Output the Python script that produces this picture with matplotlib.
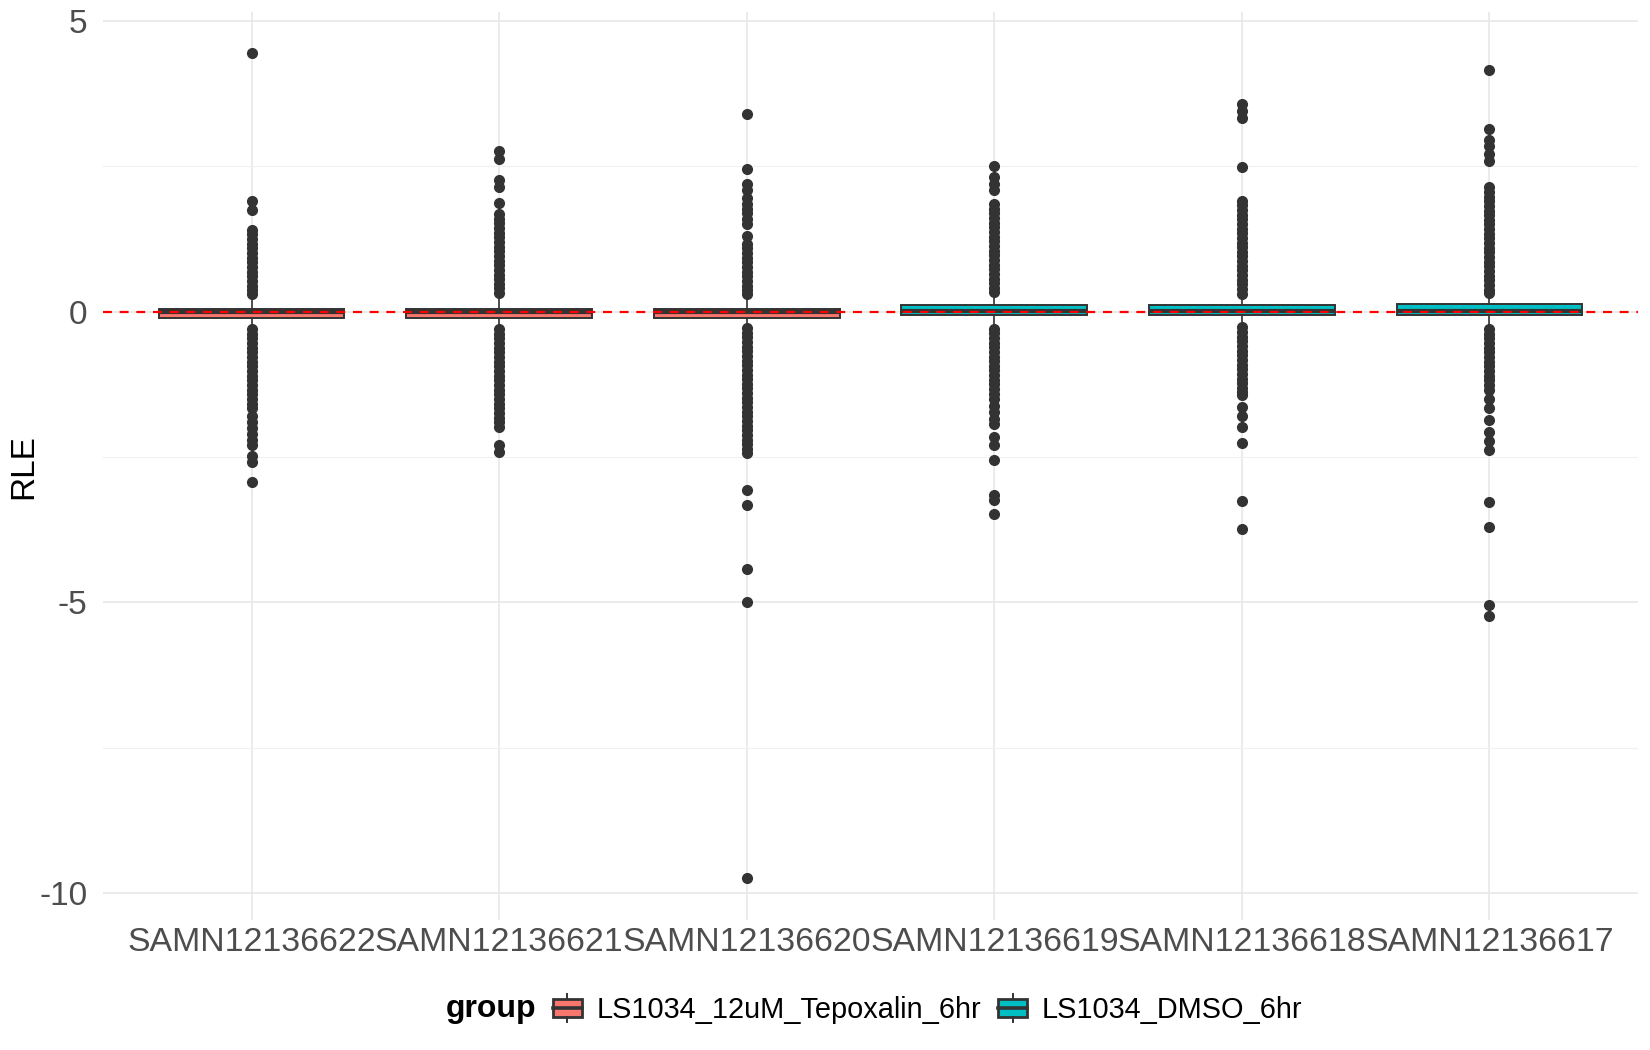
import matplotlib
matplotlib.use("Agg")
import matplotlib.pyplot as plt
from matplotlib.patches import Rectangle
from matplotlib.lines import Line2D
from matplotlib.legend_handler import HandlerBase

plt.rcParams['font.family'] = ['Liberation Sans', 'DejaVu Sans']

samples = ['SAMN12136622', 'SAMN12136621', 'SAMN12136620',
           'SAMN12136619', 'SAMN12136618', 'SAMN12136617']
groups = ['LS1034_12uM_Tepoxalin_6hr', 'LS1034_12uM_Tepoxalin_6hr', 'LS1034_12uM_Tepoxalin_6hr',
          'LS1034_DMSO_6hr', 'LS1034_DMSO_6hr', 'LS1034_DMSO_6hr']
group_names = ['LS1034_12uM_Tepoxalin_6hr', 'LS1034_DMSO_6hr']
group_colors = ['#F8766D', '#00BFC4']

# box statistics
q1 = [-0.10, -0.10, -0.10, -0.06, -0.05, -0.06]
med = [0.00, 0.00, -0.01, 0.02, 0.02, 0.02]
q3 = [0.05, 0.04, 0.04, 0.12, 0.12, 0.13]
whis_lo = [-0.25, -0.25, -0.24, -0.24, -0.23, -0.25]
whis_hi = [0.24, 0.26, 0.25, 0.29, 0.25, 0.30]

# outliers (upper and lower), one list per sample
out_hi = [
    [4.45, 1.9, 1.75, 1.4, 1.33, 1.25, 1.17, 1.09, 1.01, 0.93, 0.85, 0.77, 0.69, 0.61, 0.53, 0.45, 0.38, 0.3],
    [2.77, 2.63, 2.26, 2.14, 1.87, 1.68, 1.6, 1.52, 1.44, 1.36, 1.28, 1.2, 1.12, 1.04, 0.96, 0.88, 0.8,
     0.72, 0.64, 0.56, 0.48, 0.4, 0.32],
    [3.4, 2.45, 2.2, 2.1, 1.95, 1.85, 1.77, 1.69, 1.6, 1.5, 1.3, 1.17, 1.09, 1.01, 0.93, 0.85, 0.77,
     0.69, 0.61, 0.53, 0.45, 0.37, 0.3],
    [2.5, 2.32, 2.2, 2.1, 1.85, 1.77, 1.69, 1.61, 1.53, 1.45, 1.37, 1.29, 1.21, 1.13, 1.05, 0.97, 0.89,
     0.81, 0.73, 0.65, 0.57, 0.49, 0.41, 0.34],
    [3.57, 3.45, 3.33, 2.49, 1.91, 1.83, 1.75, 1.67, 1.59, 1.51, 1.43, 1.35, 1.27, 1.19, 1.11, 1.03,
     0.95, 0.87, 0.79, 0.71, 0.63, 0.55, 0.47, 0.39, 0.31],
    [4.15, 3.15, 2.95, 2.85, 2.72, 2.6, 2.14, 2.06, 1.98, 1.9, 1.82, 1.74, 1.66, 1.58, 1.5, 1.42, 1.34,
     1.26, 1.18, 1.1, 1.02, 0.94, 0.86, 0.78, 0.7, 0.62, 0.54, 0.46, 0.38, 0.33],
]
out_lo = [
    [-0.3, -0.38, -0.46, -0.54, -0.62, -0.7, -0.78, -0.86, -0.94, -1.02, -1.1, -1.18, -1.26, -1.34,
     -1.42, -1.5, -1.58, -1.65, -1.8, -1.9, -2.0, -2.1, -2.2, -2.3, -2.48, -2.58, -2.92],
    [-0.3, -0.38, -0.46, -0.54, -0.62, -0.7, -0.78, -0.86, -0.94, -1.02, -1.1, -1.18, -1.26, -1.34,
     -1.42, -1.5, -1.58, -1.66, -1.74, -1.82, -1.9, -1.98, -2.3, -2.42],
    [-0.28, -0.36, -0.44, -0.52, -0.6, -0.68, -0.76, -0.84, -0.92, -1.0, -1.08, -1.16, -1.24, -1.32,
     -1.4, -1.48, -1.56, -1.64, -1.72, -1.8, -1.88, -1.96, -2.04, -2.12, -2.2, -2.28, -2.36, -2.43,
     -3.07, -3.33, -4.43, -5.0, -9.73],
    [-0.29, -0.37, -0.45, -0.53, -0.61, -0.69, -0.77, -0.85, -0.93, -1.01, -1.09, -1.17, -1.25, -1.33,
     -1.41, -1.5, -1.62, -1.72, -1.84, -1.93, -2.15, -2.29, -2.55, -3.15, -3.24, -3.47],
    [-0.27, -0.35, -0.43, -0.51, -0.59, -0.67, -0.75, -0.83, -0.91, -0.99, -1.07, -1.15, -1.23, -1.31,
     -1.38, -1.44, -1.64, -1.8, -1.98, -2.25, -3.26, -3.74],
    [-0.3, -0.38, -0.46, -0.54, -0.62, -0.7, -0.78, -0.86, -0.94, -1.02, -1.1, -1.18, -1.26, -1.35,
     -1.5, -1.66, -1.87, -2.06, -2.22, -2.38, -3.27, -3.7, -5.05, -5.24],
]

DARK = '#333333'


class BoxKey(HandlerBase):
    # boxplot glyph for the legend, like ggplot's draw_key_boxplot
    def create_artists(self, legend, orig, xd, yd, w, h, fontsize, trans):
        x0, y0 = -xd, -yd
        cx = x0 + w / 2
        box = Rectangle((x0, y0 + h * 0.18), w, h * 0.64,
                        facecolor=orig.get_facecolor(), edgecolor=DARK, lw=2.0, transform=trans)
        mid = Line2D([x0, x0 + w], [y0 + h / 2] * 2, color=DARK, lw=2.6, transform=trans)
        top = Line2D([cx, cx], [y0 + h * 0.82, y0 + h], color=DARK, lw=1.4, transform=trans)
        bot = Line2D([cx, cx], [y0, y0 + h * 0.18], color=DARK, lw=1.4, transform=trans)
        return [box, mid, top, bot]


fig = plt.figure(figsize=(16.5, 10.5), dpi=100)
ax = fig.add_axes([103 / 1650, 0.1238, 1535 / 1650, 0.8651])

stats = []
for i in range(len(samples)):
    stats.append(dict(med=med[i], q1=q1[i], q3=q3[i], whislo=whis_lo[i], whishi=whis_hi[i],
                      fliers=out_hi[i] + out_lo[i], label=samples[i]))

bp = ax.bxp(stats, positions=range(len(samples)), widths=0.75, patch_artist=True,
            showcaps=False,
            boxprops=dict(edgecolor=DARK, linewidth=1.4),
            medianprops=dict(color=DARK, linewidth=3.0, solid_capstyle='butt'),
            whiskerprops=dict(color=DARK, linewidth=1.2),
            flierprops=dict(marker='o', markersize=7, markerfacecolor=DARK,
                            markeredgecolor=DARK, linestyle='none'))
for patch, g in zip(bp['boxes'], groups):
    patch.set_facecolor(group_colors[group_names.index(g)])

ax.axhline(0, color='red', linestyle=(0, (4, 3.5)), linewidth=1.6, zorder=5)

ax.set_xlim(-0.6, len(samples) - 0.4)
ax.set_ylim(-10.46, 5.16)
ax.set_yticks([-10, -5, 0, 5])
ax.set_yticklabels(['-10', '-5', '0', '5'])
ax.set_yticks([-7.5, -2.5, 2.5], minor=True)
ax.set_xticks(range(len(samples)))
ax.set_xticklabels(samples)

ax.grid(True, which='major', color='#E6E6E6', linewidth=1.1)
ax.grid(True, which='minor', axis='y', color='#F0F0F0', linewidth=0.8)
ax.set_axisbelow(True)
for s in ax.spines.values():
    s.set_visible(False)
ax.tick_params(axis='both', which='both', length=0, labelsize=24, labelcolor='#4D4D4D')
ax.tick_params(axis='x', labelsize=24.4, pad=5)
ax.tick_params(axis='y', pad=11)

fig.text(24 / 1650, 0.556, 'RLE', rotation=90, ha='center', va='center', fontsize=24)

# legend at the bottom, title on the left
fig.text(446 / 1650, 0.039, 'group', ha='left', va='center', fontsize=23, fontweight='bold')
handles = [Rectangle((0, 0), 1, 1, facecolor=c) for c in group_colors]
ax.legend(handles, group_names, handler_map={Rectangle: BoxKey()},
          loc='center left', bbox_to_anchor=(553 / 1650, 0.039), bbox_transform=fig.transFigure,
          ncol=2, frameon=False, fontsize=20.8, handlelength=1.0, handleheight=1.12,
          handletextpad=0.5, columnspacing=0.6, borderpad=0, borderaxespad=0)

fig.savefig('out.png', dpi=100)
